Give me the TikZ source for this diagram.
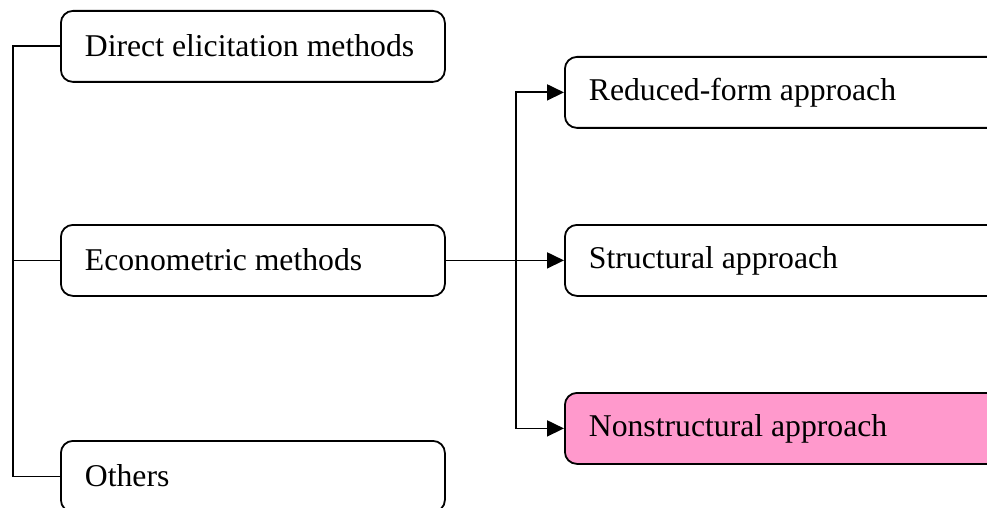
\documentclass[tikz,border=0pt]{standalone}
\usepackage{fontspec}
\setmainfont{Liberation Serif}
\usetikzlibrary{arrows.meta}
\definecolor{pinkfill}{HTML}{FF99CC}
\newcommand{\lbtext}[1]{\raisebox{2.5pt}{\makebox[336pt][l]{#1}}}
\newcommand{\rbtext}[1]{\raisebox{2.5pt}{\makebox[488pt][l]{#1}}}
\begin{document}
\begin{tikzpicture}[x=1pt,y=-1pt,
  box/.style={draw,line width=1.8pt,rounded corners=12pt,minimum height=71pt,
    inner xsep=24pt,inner ysep=0pt,anchor=north west,
    font=\fontsize{31.7}{38}\selectfont},
  conn/.style={line width=1.8pt},
  arr/.style={conn,-{Triangle[length=17pt,width=16pt]}}]
\useasboundingbox (0,0) rectangle (987,508);
\clip (0,0) rectangle (987,508);
\node[box] (d) at (60,10) {\lbtext{Direct elicitation methods}};
\node[box] (e) at (60,224) {\lbtext{Econometric methods}};
\node[box] (o) at (60,440) {\lbtext{Others}};
\node[box] (r) at (564,56) {\rbtext{Reduced-form approach}};
\node[box] (s) at (564,224) {\rbtext{Structural approach}};
\node[box,fill=pinkfill] (n) at (564,392) {\rbtext{Nonstructural approach}};
\coordinate (trunk) at (13,0);
\coordinate (split) at (516,0);
\draw[conn] (d.west) -- (trunk |- d.west) -- (trunk |- o.west) -- (o.west);
\draw[conn] (e.west) -- (trunk |- e.west);
\draw[arr] (e.east) -- (s.west);
\draw[arr] (split |- s.west) |- (r.west);
\draw[arr] (split |- s.west) |- (n.west);
\end{tikzpicture}
\end{document}
